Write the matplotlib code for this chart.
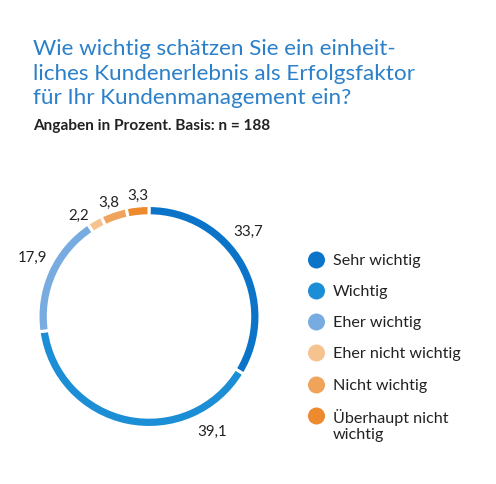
import numpy as np
import matplotlib
matplotlib.use("Agg")
import matplotlib.pyplot as plt
from matplotlib.patches import Circle

categories = ["Sehr wichtig", "Wichtig", "Eher wichtig", "Eher nicht wichtig",
              "Nicht wichtig", "Überhaupt nicht\nwichtig"]
values = [33.7, 39.1, 17.9, 2.2, 3.8, 3.3]
value_labels = ["33,7", "39,1", "17,9", "2,2", "3,8", "3,3"]

COLORS = ["#0b74c9", "#1b8ed6", "#78ace0", "#f6c290", "#f0a35a", "#ec8a2d"]
TITLE_BLUE = "#2b80c9"
TEXT = "#222222"
FONT = ["Lato", "DejaVu Sans"]
# label placement (angle in degrees, radius in ring units)
LABEL_POS = [(40.8, 1.18), (-61.2, 1.18), (153, 1.18), (124.6, 1.11),
             (109.4, 1.09), (95.2, 1.10)]

W, H = 496, 485
fig = plt.figure(figsize=(W / 100, H / 100), dpi=100)
fig.patch.set_facecolor("white")

# pixel overlay for text
ov = fig.add_axes([0, 0, 1, 1])
ov.set_xlim(0, W); ov.set_ylim(H, 0); ov.axis("off")

title = ["Wie wichtig schätzen Sie ein einheit-",
         "liches Kundenerlebnis als Erfolgsfaktor",
         "für Ihr Kundenmanagement ein?"]
for i, line in enumerate(title):
    ov.text(33, 55 + i * 24.5, line, color=TITLE_BLUE, fontsize=16.2,
            family=FONT, va="baseline", ha="left")
ov.text(33, 130, "Angaben in Prozent. Basis: n = 188", color=TEXT,
        fontsize=11.1, fontweight="bold", family=FONT, va="baseline")

# donut
cx, cy, R = 149, 317.5, 111
span = 3.0 * R
ax = fig.add_axes([(cx - span / 2) / W, (H - cy - span / 2) / H, span / W, span / H])
ax.pie(values, colors=COLORS, startangle=90, counterclock=False, radius=1,
       wedgeprops=dict(width=0.093, edgecolor="white", linewidth=2.2))
ax.set_xlim(-1.5, 1.5); ax.set_ylim(-1.5, 1.5); ax.set_aspect("equal"); ax.axis("off")
for lab, (ang, r) in zip(value_labels, LABEL_POS):
    a = np.deg2rad(ang)
    ax.text(r * np.cos(a), r * np.sin(a), lab, ha="center", va="center",
            fontsize=10.8, color=TEXT, family=FONT)

# legend
ys = [261, 292, 323, 354, 386, 417]
for y, lab, col in zip(ys, categories, COLORS):
    ov.add_patch(Circle((316.5, y), 8.5, color=col, lw=0))
    ov.text(333, y - 8 if "\n" in lab else y, lab, color=TEXT, fontsize=11.6,
            family=FONT, va="top" if "\n" in lab else "center", ha="left",
            linespacing=1.15)

fig.savefig("out.png", dpi=100, facecolor="white")
